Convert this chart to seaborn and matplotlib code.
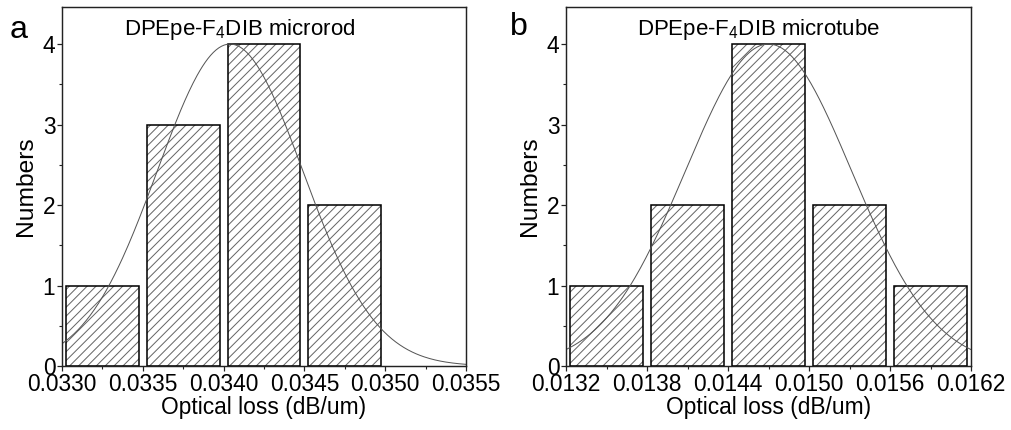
import numpy as np
import pandas as pd
import seaborn as sns
import matplotlib.pyplot as plt
from matplotlib.ticker import MultipleLocator, FormatStrFormatter

# microrod histogram (bin centers / counts) and Gaussian fit
rod_centers = [0.03325, 0.03375, 0.03425, 0.03475]
rod_counts = [1, 3, 4, 2]
rod_bin = 0.0005
rod_fit = dict(mu=0.03404, sigma=0.00045, amp=4.0)

# microtube histogram and Gaussian fit
tube_centers = [0.0135, 0.0141, 0.0147, 0.0153, 0.0159]
tube_counts = [1, 2, 4, 2, 1]
tube_bin = 0.0006
tube_fit = dict(mu=0.0147, sigma=0.000615, amp=4.0)

sns.set_style("ticks")
plt.rcParams['font.family'] = ['Liberation Sans', 'DejaVu Sans']
plt.rcParams['mathtext.fontset'] = 'custom'
plt.rcParams['mathtext.rm'] = 'Liberation Sans'
plt.rcParams['mathtext.it'] = 'Liberation Sans'
plt.rcParams['hatch.linewidth'] = 0.9
for k in ['text.color', 'axes.labelcolor', 'xtick.color', 'ytick.color']:
    plt.rcParams[k] = 'black'

DPI = 80
fig = plt.figure(figsize=(1011 / DPI, 430 / DPI), dpi=DPI)
ax1 = fig.add_axes([62 / 1011, 1 - 366 / 430, 404 / 1011, 359 / 430])
ax2 = fig.add_axes([566 / 1011, 1 - 366 / 430, 405 / 1011, 359 / 430])


def panel(ax, centers, counts, width, fit, xlim, major, title, title_x):
    df = pd.DataFrame({"loss": centers, "n": counts})
    edges = [centers[0] - width / 2 + i * width for i in range(len(centers) + 1)]
    sns.histplot(data=df, x="loss", weights="n", bins=edges, shrink=0.9,
                 color="white", edgecolor="#666666", linewidth=0,
                 hatch="///", alpha=1, ax=ax)
    sns.histplot(data=df, x="loss", weights="n", bins=edges, shrink=0.9,
                 fill=False, color="black", edgecolor="black", linewidth=1.4, ax=ax)
    xs = np.linspace(xlim[0], xlim[1], 300)
    ys = fit["amp"] * np.exp(-(xs - fit["mu"]) ** 2 / (2 * fit["sigma"] ** 2))
    sns.lineplot(x=xs, y=ys, color="#555555", linewidth=0.9, ax=ax)

    ax.set_xlim(*xlim)
    ax.set_ylim(0, 4.46)
    ax.xaxis.set_major_locator(MultipleLocator(major))
    ax.xaxis.set_minor_locator(MultipleLocator(major / 2))
    ax.xaxis.set_major_formatter(FormatStrFormatter('%.4f'))
    ax.yaxis.set_major_locator(MultipleLocator(1))
    ax.yaxis.set_minor_locator(MultipleLocator(0.5))
    ax.tick_params(which='major', direction='out', length=4.5, width=1.1,
                   labelsize=20.5, pad=1.5, color='#222222')
    ax.tick_params(which='minor', direction='out', length=2.5, width=1.0,
                   color='#222222')
    for s in ax.spines.values():
        s.set_linewidth(1.3)
        s.set_color('#222222')
    ax.set_xlabel("Optical loss (dB/um)", fontsize=20.5, labelpad=0)
    ax.set_ylabel("Numbers", fontsize=22, labelpad=5)
    ax.text(title_x, 0.922, title, transform=ax.transAxes, fontsize=20,
            ha='left', va='baseline')


panel(ax1, rod_centers, rod_counts, rod_bin, rod_fit, (0.0330, 0.0355), 0.0005,
      r"DPEpe-F$_4$DIB microrod", 0.153)
panel(ax2, tube_centers, tube_counts, tube_bin, tube_fit, (0.0132, 0.0162), 0.0006,
      r"DPEpe-F$_4$DIB microtube", 0.175)

fig.text(10 / 1011, 1 - 38 / 430, "a", fontsize=29, va='baseline', ha='left')
fig.text(510 / 1011, 1 - 35 / 430, "b", fontsize=29, va='baseline', ha='left')

fig.savefig("out.png", dpi=DPI)
